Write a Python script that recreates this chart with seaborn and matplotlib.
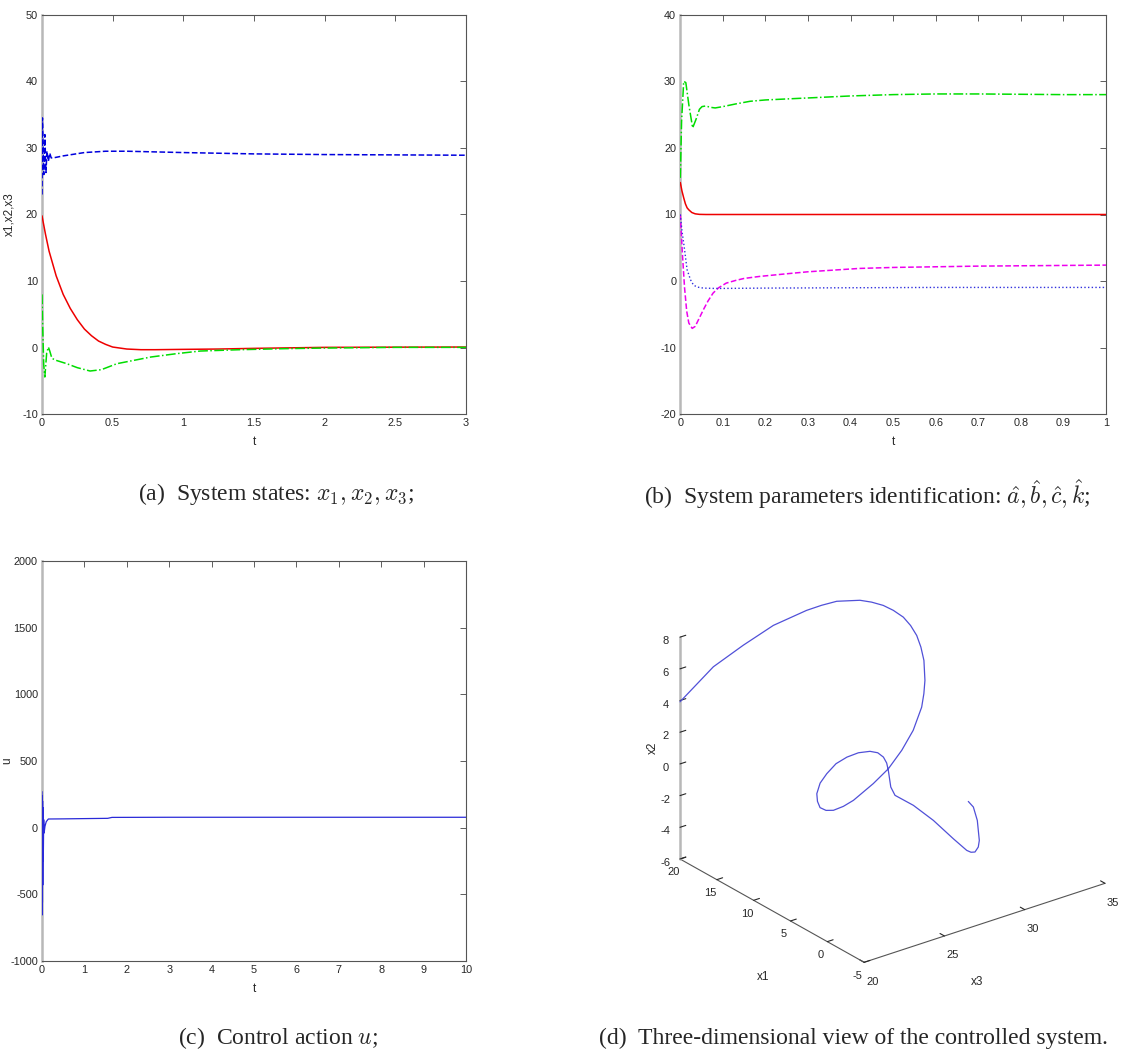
import matplotlib
matplotlib.use("Agg")
import matplotlib.pyplot as plt
import seaborn as sns
from mpl_toolkits.mplot3d import proj3d

# (a) system states x1, x2, x3 versus t
t_x1 = [0, 0.025, 0.05, 0.1, 0.15, 0.2, 0.25, 0.3, 0.35, 0.4, 0.45, 0.5, 0.6, 0.7,
        0.8, 1.0, 1.25, 1.5, 2.0, 2.5, 3.0]
x1_vals = [19.8, 17, 14.5, 10.8, 8.0, 5.9, 4.2, 2.8, 1.8, 1.0, 0.5, 0.1, -0.2, -0.3,
           -0.3, -0.25, -0.2, -0.1, 0.05, 0.08, 0.1]
t_x2 = [0, 0.005, 0.012, 0.02, 0.027, 0.033, 0.045, 0.055, 0.07, 0.1, 0.175, 0.25,
        0.34, 0.42, 0.53, 0.65, 0.77, 0.95, 1.12, 1.4, 1.7, 2.0, 2.5, 3.0]
x2_vals = [8, 3, -2.5, -4.4, -2.5, -0.8, 0.1, -0.5, -1.6, -1.9, -2.4, -3.0,
           -3.5, -3.3, -2.4, -1.9, -1.4, -0.9, -0.5, -0.3, -0.15, -0.05, 0.05, 0.05]
t_x3 = [0, 0.003, 0.008, 0.013, 0.02, 0.028, 0.035, 0.045, 0.055, 0.065, 0.08, 0.15,
        0.3, 0.45, 0.6, 0.8, 1.0, 1.5, 2.0, 2.5, 3.0]
x3_vals = [23, 34.5, 30, 26, 32, 26.3, 29.5, 28, 29.2, 28.5, 28.5, 28.8,
           29.3, 29.5, 29.5, 29.4, 29.3, 29.1, 29.0, 28.95, 28.9]

# (b) parameter estimates a^, b^, c^, k^ versus t
t_a = [0, 0.004, 0.008, 0.012, 0.016, 0.02, 0.027, 0.035, 0.045, 0.06, 0.1, 0.3, 0.6, 1.0]
a_hat = [14.8, 13.5, 12.5, 11.6, 11, 10.7, 10.3, 10.1, 10.02, 10, 10, 10, 10, 10]
t_b = [0, 0.003, 0.008, 0.013, 0.02, 0.029, 0.037, 0.045, 0.051, 0.06, 0.07, 0.082,
       0.1, 0.13, 0.164, 0.2, 0.3, 0.4, 0.5, 0.6, 0.7, 0.8, 0.9, 1.0]
b_hat = [15.5, 24, 30, 29.8, 26.5, 23, 24.3, 25.8, 26.2, 26.3, 26.1, 26,
         26.2, 26.6, 27, 27.2, 27.5, 27.8, 28, 28.1, 28.1, 28.05, 28, 28]
t_c = [0, 0.005, 0.01, 0.015, 0.02, 0.028, 0.035, 0.045, 0.055, 0.065, 0.077, 0.09,
       0.108, 0.13, 0.15, 0.186, 0.25, 0.3, 0.42, 0.5, 0.6, 0.7, 0.8, 0.9, 1.0]
c_hat = [10, 4, -1, -4.5, -6.3, -7.1, -6.8, -5.5, -4.2, -3.0, -1.8, -1.0,
         -0.3, 0.1, 0.4, 0.7, 1.1, 1.4, 1.9, 2.05, 2.15, 2.25, 2.3, 2.35, 2.4]
t_k = [0, 0.004, 0.009, 0.016, 0.024, 0.031, 0.04, 0.054, 0.08, 0.1, 0.2, 0.4, 0.6, 0.8, 1.0]
k_hat = [10, 7.5, 5.2, 1.7, 0.2, -0.6, -0.9, -1.05, -1.1, -1.1, -1.05, -1.0, -0.95, -0.95, -0.95]

# (c) control action u versus t
t_u = [0, 0.003, 0.006, 0.01, 0.014, 0.018, 0.022, 0.03, 0.04, 0.05, 0.07, 0.1, 0.15,
       0.5, 1.0, 1.55, 1.65, 3, 5, 7, 10]
u_vals = [270, -655, 240, -560, 200, -430, 150, -250, 60, -40, 10, 45, 65,
          66, 68, 70, 77, 78, 78, 78, 78]

# (d) 3-D trajectory (x1, x2, x3)
traj_x1 = [20, 18.5, 17, 15.5, 14, 13.25, 12.5, 11.2, 10.6, 10, 9.4, 8.8, 8.25, 7.7,
           7.2, 6.7, 5.8, 5.4, 5, 4.3, 3.6, 3.0, 2.5, 2.1, 1.9, 1.7, 1.55, 1.4, 1.25,
           1.1, 1.0, 0.9, 0.8, 0.7, 0.62, 0.55, 0.5, 0.45, 0.4, 0.35, 0.3, 0.25, 0.2,
           0.15, 0.1, 0.08, 0.065, 0.05, 0.04, 0.03, 0.02, 0.01, 0]
traj_x2 = [3.92, 6.06, 7.42, 8.67, 9.55, 9.87, 10.12, 10.24, 10.13, 9.93, 9.66, 9.27,
           8.82, 8.29, 7.68, 6.98, 6.07, 5.42, 4.78, 3.78, 3.05, 2.41, 1.99, 1.51, 1.42,
           1.46, 1.67, 2.03, 2.54, 3.10, 3.74, 4.24, 4.72, 4.95, 5.02, 4.90, 4.67, 4.30,
           3.88, 3.40, 2.32, 1.73, 0.74, -0.60, -2.15, -3.16, -3.36, -3.42, -3.17, -2.77,
           -1.46, -0.53, -0.07]
traj_x3 = [20, 21.39, 22.56, 23.75, 25.13, 25.72, 26.32, 27.17, 27.62, 28.07, 28.42,
           28.77, 28.97, 29.10, 29.13, 29.09, 28.74, 28.49, 28.17, 27.32, 26.29, 25.18,
           24.01, 22.59, 21.87, 21.16, 20.63, 20.19, 19.96, 19.85, 20.01, 20.38, 20.91,
           21.54, 22.22, 22.91, 23.37, 23.70, 23.88, 23.96, 24.09, 24.33, 25.45, 26.67,
           27.89, 28.72, 28.98, 29.22, 29.42, 29.48, 29.35, 29.10, 28.78]

sns.set_style("white")
plt.rcParams['font.family'] = ['Liberation Sans', 'DejaVu Sans']
plt.rcParams['mathtext.fontset'] = 'cm'
plt.rcParams['axes.unicode_minus'] = False

W, H = 1125, 1056
fig = plt.figure(figsize=(W / 100, H / 100), dpi=100)


def px_rect(left, top, right, bottom):
    return [left / W, 1 - bottom / H, (right - left) / W, (bottom - top) / H]


def matlab_look(ax):
    ax.tick_params(direction='in', length=4, width=0.6, top=True, right=True,
                   labelsize=7.8, color='#444444', pad=3)
    for side in ['top', 'bottom', 'right']:
        ax.spines[side].set_color('#555555')
        ax.spines[side].set_linewidth(0.8)
    ax.spines['left'].set_color('#b8b8b8')
    ax.spines['left'].set_linewidth(1.8)
    ax.xaxis.set_label_coords(0.5, -0.055)


# (a)
ax_a = fig.add_axes(px_rect(42, 14.7, 466, 414.3))
sns.lineplot(x=t_x1, y=x1_vals, ax=ax_a, color='#ee0000', lw=1.1, sort=False, zorder=3)
sns.lineplot(x=t_x2, y=x2_vals, ax=ax_a, color='#00dd00', lw=1.1, linestyle='-.',
             sort=False, zorder=3)
sns.lineplot(x=t_x3, y=x3_vals, ax=ax_a, color='#0000dd', lw=1.1, linestyle='--',
             sort=False, zorder=3)
ax_a.set_xlim(0, 3)
ax_a.set_ylim(-10, 50)
ax_a.set_xticks([0, 0.5, 1, 1.5, 2, 2.5, 3])
ax_a.set_xticklabels(['0', '0.5', '1', '1.5', '2', '2.5', '3'])
ax_a.set_yticks(range(-10, 51, 10))
ax_a.set_xlabel('t', fontsize=8.5)
ax_a.set_ylabel('x1,x2,x3', fontsize=8.5)
matlab_look(ax_a)
ax_a.yaxis.set_label_coords(-0.062, 0.5)

# (b)
ax_b = fig.add_axes(px_rect(680.3, 14.7, 1106, 414.3))
sns.lineplot(x=t_a, y=a_hat, ax=ax_b, color='#ee0000', lw=1.1, sort=False, zorder=3)
sns.lineplot(x=t_b, y=b_hat, ax=ax_b, color='#00dd00', lw=1.1, linestyle='-.',
             sort=False, zorder=3)
sns.lineplot(x=t_c, y=c_hat, ax=ax_b, color='#ee00ee', lw=1.1, linestyle='--',
             sort=False, zorder=3)
sns.lineplot(x=t_k, y=k_hat, ax=ax_b, color='#3030dd', lw=1.0, linestyle=':',
             sort=False, zorder=3)
ax_b.set_xlim(0, 1)
ax_b.set_ylim(-20, 40)
ax_b.set_xticks([i / 10 for i in range(11)])
ax_b.set_xticklabels(['0'] + ['0.%d' % i for i in range(1, 10)] + ['1'])
ax_b.set_yticks(range(-20, 41, 10))
ax_b.set_xlabel('t', fontsize=8.5)
matlab_look(ax_b)

# (c)
ax_c = fig.add_axes(px_rect(42, 561, 466, 961))
sns.lineplot(x=t_u, y=u_vals, ax=ax_c, color='#2a2ad8', lw=0.9, sort=False, zorder=3)
ax_c.set_xlim(0, 10)
ax_c.set_ylim(-1000, 2000)
ax_c.set_xticks(range(0, 11))
ax_c.set_yticks(range(-1000, 2001, 500))
ax_c.set_xlabel('t', fontsize=8.5)
ax_c.set_ylabel('u', fontsize=8.5)
matlab_look(ax_c)
ax_c.yaxis.set_label_coords(-0.068, 0.5)

# (d) 3-D view
ax_d = fig.add_axes([0.55, 0.05, 0.45, 0.45], projection='3d')
ax_d.plot(traj_x3, traj_x1, traj_x2, color='#5050d8', lw=0.9)
ax_d.set_proj_type('ortho')
ax_d.view_init(elev=25.4, azim=-127.4)
ax_d.set_box_aspect((1, 1, 0.81))
ax_d.set_xlim(20, 35)
ax_d.set_ylim(-5, 20)
ax_d.set_zlim(-6, 8)
ax_d.set_xticks([20, 25, 30, 35])
ax_d.set_yticks([-5, 0, 5, 10, 15, 20])
ax_d.set_zticks(range(-6, 9, 2))
ax_d.grid(False)
for axis in (ax_d.xaxis, ax_d.yaxis, ax_d.zaxis):
    axis.pane.fill = False
    axis.pane.set_edgecolor((1, 1, 1, 0))
    axis.line.set_color('#555555')
    axis.line.set_linewidth(0.8)
    axis._axinfo['tick']['inward_factor'] = 0.0
    axis._axinfo['tick']['outward_factor'] = 0.3
ax_d.zaxis.line.set_color('#b8b8b8')
ax_d.zaxis.line.set_linewidth(1.8)
ax_d.tick_params(axis='x', labelsize=8, pad=0)
ax_d.tick_params(axis='y', labelsize=8, pad=-3)
ax_d.tick_params(axis='z', labelsize=8, pad=-2)

# fit the 3-D box onto the reference corners (pixel coordinates of the image)
corner_a = (20, 20, -6)
corner_c = (35, -5, -6)
target_a = (680, H - 859)
target_c = (1105, H - 883)


def to_display(pt):
    xs, ys, _ = proj3d.proj_transform(pt[0], pt[1], pt[2], ax_d.get_proj())
    return ax_d.transData.transform((xs, ys))


for _ in range(4):
    fig.canvas.draw()
    pa = to_display(corner_a)
    pc = to_display(corner_c)
    s = (target_c[0] - target_a[0]) / (pc[0] - pa[0])
    pos = ax_d.get_position(original=True)
    cx = (pos.x0 + pos.width / 2) * W
    cy = (pos.y0 + pos.height / 2) * H
    ncx = target_a[0] - s * (pa[0] - cx)
    ncy = target_a[1] - s * (pa[1] - cy)
    nw, nh = pos.width * s, pos.height * s
    ax_d.set_position([ncx / W - nw / 2, ncy / H - nh / 2, nw, nh])

# 3-D axis names, placed where the reference shows them
lab = dict(fontsize=8.5, ha='center', va='center')
fig.text(763 / W, 1 - 977 / H, 'x1', **lab)
fig.text(977 / W, 1 - 982 / H, 'x3', **lab)
fig.text(653 / W, 1 - 748 / H, 'x2', rotation=90, **lab)

# captions
cap = dict(fontsize=17, family=['Liberation Serif', 'DejaVu Serif'], ha='center', va='center')
fig.text(276 / W, 1 - 494 / H, r'(a)  System states: $x_1, x_2, x_3$;', **cap)
fig.text(867 / W, 1 - 494 / H,
         r'(b)  System parameters identification: $\hat{a}, \hat{b}, \hat{c}, \hat{k}$;', **cap)
fig.text(278 / W, 1 - 1038 / H, r'(c)  Control action $u$;', **cap)
fig.text(853 / W, 1 - 1038 / H, '(d)  Three-dimensional view of the controlled system.', **cap)

fig.savefig('out.png', dpi=100)
